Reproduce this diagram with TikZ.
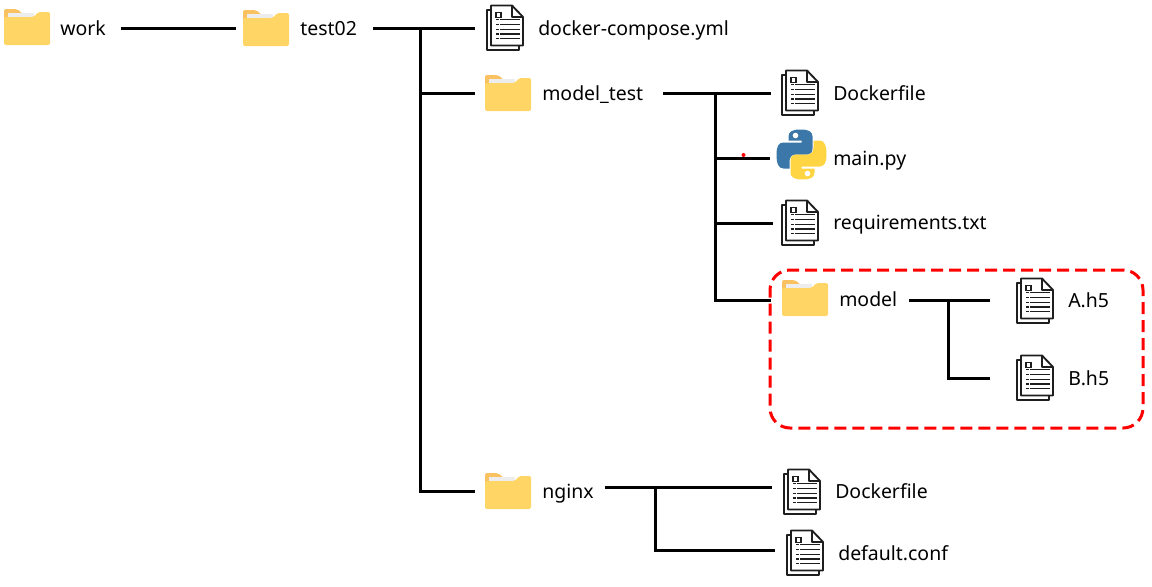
\documentclass[tikz,border=0pt]{standalone}
\usepackage{fontspec}
\setmainfont{Noto Sans}
\definecolor{fldfront}{HTML}{FFD566}
\definecolor{fldback}{HTML}{F9C15F}
\definecolor{fldpaper}{HTML}{EDEDED}
\definecolor{docink}{HTML}{1E1E1E}
\definecolor{pyblue}{HTML}{3B77A8}
\definecolor{pyyellow}{HTML}{FFD543}
\tikzset{
  txt/.style={anchor=base west,inner sep=0pt,font=\fontsize{14.6pt}{16pt}\selectfont},
  treeline/.style={line width=2.25pt,black},
  iconbox/.style={inner sep=0pt,outer sep=0pt,minimum width=#1*0.75pt,minimum height=27pt},
  foldericon/.pic={
    \fill[fldback,rounded corners=1.5pt] (-23,-6) -- (-23,-18) -- (-10,-18) -- (-4,-13) -- (-4,-6) -- cycle;
    \fill[fldpaper] (-19,-14) rectangle (7,-8);
    \fill[fldfront,rounded corners=1.5pt] (-23,18) -- (-23,-10) -- (7,-10) -- (11,-15) -- (23,-15) -- (23,18) -- cycle;
    \node[iconbox=46] (-n) at (0,0) {};
  },
  docicon/.pic={
    \draw[docink,line width=1.4pt,line join=round] (-14,-18) -- (-18,-18) -- (-18,22) -- (14,22) -- (14,18);
    \draw[docink,line width=1.4pt,line join=round,fill=white] (-14,-22.5) -- (7,-22.5) -- (18,-11) -- (18,17.5) -- (-14,17.5) -- cycle;
    \draw[docink,line width=1.4pt,line join=round] (7,-22.5) -- (7,-11) -- (18,-11);
    \draw[docink,line width=0.9pt] (-9,-15.5) rectangle (-4,-10.5);
    \foreach \yy in {-8.5,-3.5,1.5,6,10.5} {
      \fill[docink] (-9,\yy-0.8) rectangle (-6.5,\yy+0.8);
      \fill[docink] (-5,\yy-0.8) rectangle (15,\yy+0.8);
    }
    \node[iconbox=36] (-n) at (0,0) {};
  },
  pysnake/.pic={
    \fill[pic actions] (-13,-18) .. controls (-13,-23) and (-9,-25) .. (-1,-25) .. controls (7,-25) and (11,-23) .. (11,-18) -- (11,-6) .. controls (11,-2) and (9,0) .. (6,0) -- (-6,0) .. controls (-10,0) and (-12,3) .. (-12,7) -- (-12,14) -- (-18,14) .. controls (-23,14) and (-25,9) .. (-25,0) .. controls (-25,-8) and (-23,-12) .. (-18,-12) -- (0,-12) -- (0,-14) -- (-13,-14) -- cycle;
    \fill[white] (-6,-19) circle [radius=2.8];
  }
}
\begin{document}
\begin{tikzpicture}[x=0.75pt,y=-0.75pt]
\useasboundingbox (0,0) rectangle (1152,586);

% first row
\pic (fwork) at (27,27) {foldericon};
\node[txt] (twork) at (60,35) {work};
\pic (ftest) at (266,28) {foldericon};
\node[txt] (ttest) at (300,35) {test02};
\pic (dcompose) at (505,28) {docicon};
\node[txt] (tcompose) at (538,35) {docker-compose.yml};
\draw[treeline,shorten <=11pt,shorten >=5pt] (twork.east |- ftest-n.west) -- (ftest-n.west);

% test02 children
\pic (fmodeltest) at (508,93) {foldericon};
\node[txt] (tmodeltest) at (542,100) {model\_test};
\pic (fnginx) at (508,491) {foldericon};
\node[txt] (tnginx) at (542,498) {nginx};
\coordinate (jtest) at (420.5,28);
\draw[treeline,shorten <=12pt,shorten >=9pt] (ttest.east |- dcompose-n.west) -- (dcompose-n.west);
\draw[treeline,shorten >=7.5pt] (jtest) |- (fnginx-n.west);
\draw[treeline,shorten >=7.5pt] (jtest |- fmodeltest-n.west) -- (fmodeltest-n.west);

% model_test children
\pic (ddocker) at (800,93) {docicon};
\node[txt] (tdocker) at (833,100) {Dockerfile};
\pic[pyblue] at (801.5,154.5) {pysnake};
\pic[pyyellow,rotate=180] at (801.5,154.5) {pysnake};
\node[inner sep=0pt,minimum size=37.5pt] (pmain) at (801.5,158) {};
\node[txt] (tmain) at (833,165) {main.py};
\pic (dreq) at (800,223) {docicon};
\node[txt] (treq) at (833,229) {requirements.txt};
\pic (fmodel) at (805,298) {foldericon};
\node[txt] (tmodel) at (839,306) {model};
\coordinate (jmodeltest) at (715.5,93);
\coordinate (emodel) at (771,300);
\draw[treeline,shorten <=15pt,shorten >=8.5pt] (tmodeltest.east |- ddocker-n.west) -- (ddocker-n.west);
\draw[treeline] (jmodeltest) |- (emodel);
\draw[treeline,shorten >=4.5pt] (jmodeltest |- pmain.west) -- (pmain.west);
\draw[treeline,shorten >=7pt] (jmodeltest |- dreq-n.west) -- (dreq-n.west);
\fill[red] (743.5,155) circle [radius=2];

% model children
\pic (da) at (1035,301) {docicon};
\node[txt] (ta) at (1068,307) {A.h5};
\pic (db) at (1035,378) {docicon};
\node[txt] (tb) at (1068,385) {B.h5};
\coordinate (jmodel) at (948,300);
\coordinate (ea) at (990,300);
\draw[treeline,shorten <=9pt] (tmodel.east |- ea) -- (ea);
\draw[treeline,shorten >=20pt] (jmodel) |- (db-n.west);
\node[draw=red,dash pattern=on 9pt off 4.5pt,line width=2.25pt,rounded corners=15pt,inner sep=0pt,minimum width=279.75pt,minimum height=118.5pt] (selbox) at (956.5,349) {};

% nginx children
\pic (dngdocker) at (802,492) {docicon};
\node[txt] (tngdocker) at (835,498) {Dockerfile};
\pic (dngconf) at (805,553) {docicon};
\node[txt] (tngconf) at (838,560) {default.conf};
\coordinate (jnginx) at (655,487);
\coordinate (engdocker) at (772,487);
\coordinate (engconf) at (775,550);
\draw[treeline,shorten <=8pt] (tnginx.east |- engdocker) -- (engdocker);
\draw[treeline] (jnginx) |- (engconf);
\end{tikzpicture}
\end{document}
